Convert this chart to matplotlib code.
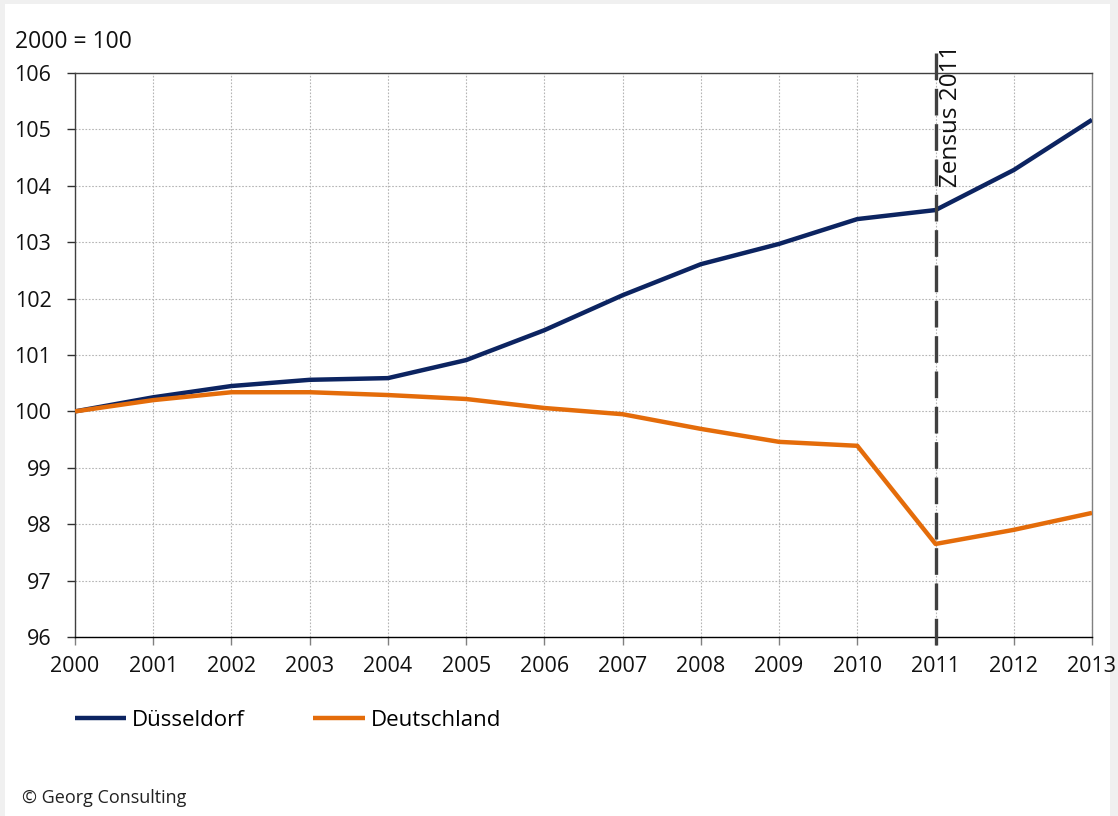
import matplotlib.pyplot as plt
from matplotlib.patches import Rectangle

plt.rcParams["font.family"] = ["Open Sans", "DejaVu Sans"]

years = list(range(2000, 2014))
duesseldorf = [100.0, 100.25, 100.45, 100.56, 100.59, 100.91, 101.44,
               102.06, 102.61, 102.97, 103.41, 103.57, 104.28, 105.17]
deutschland = [100.0, 100.2, 100.34, 100.34, 100.29, 100.22, 100.06,
               99.95, 99.69, 99.46, 99.39, 97.65, 97.9, 98.2]
zensus_year = 2011

navy = "#0c2461"
orange = "#e46c0a"
fs = 15.5

fig = plt.figure(figsize=(11.18, 8.16), dpi=100, facecolor="#f0f0f0")
# white card on the grey page
fig.add_artist(Rectangle((5 / 1118, 0), 1105 / 1118, 812 / 816,
                         transform=fig.transFigure, facecolor="white",
                         edgecolor="none", zorder=-10))

ax = fig.add_axes([75 / 1118, 179 / 816, 1017 / 1118, 564 / 816])
ax.set_facecolor("white")

ax.plot(years, duesseldorf, color=navy, lw=3.2, label="Düsseldorf",
        solid_capstyle="butt", zorder=3)
ax.plot(years, deutschland, color=orange, lw=3.2, label="Deutschland",
        solid_capstyle="butt", zorder=4)

ax.set_xlim(2000, 2013)
ax.set_ylim(96, 106)
ax.set_xticks(years)
ax.set_yticks(range(96, 107))

ax.grid(True, color="#b5b5b5", linestyle=(0, (1.5, 1.5)), lw=0.8)
ax.set_axisbelow(True)

for s in ax.spines.values():
    s.set_color("#404040")
    s.set_linewidth(1.0)
ax.spines["bottom"].set_color("black")
ax.spines["right"].set_color("#808080")

ax.tick_params(axis="both", labelsize=fs, labelcolor="#111111", length=6,
               width=1.0)
ax.tick_params(axis="y", pad=11, color="#303030")
ax.tick_params(axis="x", pad=8, color="#808080")

# Zensus marker reaching past the plot area
ax.axvline(zensus_year, ymin=-0.015, ymax=1.05, color="#404040", lw=2.4,
           dashes=(8, 2.6), clip_on=False, zorder=5)
ax.text(zensus_year + 0.04, 106.5, "Zensus 2011", rotation=90, ha="left",
        va="top", fontsize=17.5, color="#111111")

fig.text(15 / 1118, 1 - 42 / 816, "2000 = 100", fontsize=16.5, va="center",
         ha="left", color="#111111")
fig.text(22 / 1118, 1 - 798 / 816, "© Georg Consulting", fontsize=13,
         va="center", ha="left", color="#222222")

ax.legend(loc="center left", bbox_to_anchor=(-0.02, -0.148), ncol=2,
          frameon=False, fontsize=16, handlelength=2.3, handletextpad=0.27,
          columnspacing=3.1)

fig.savefig("out.png", dpi=100, facecolor=fig.get_facecolor())
